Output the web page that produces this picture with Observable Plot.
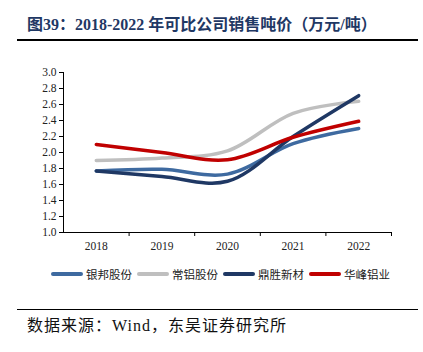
<!DOCTYPE html>
<html><head><meta charset="utf-8">
<script src="https://cdn.jsdelivr.net/npm/d3@7"></script>
<script src="https://cdn.jsdelivr.net/npm/@observablehq/plot@0.6"></script>
<style>
body{margin:0;background:#fff;}
#wrap{position:relative;width:423px;height:352px;background:#fff;overflow:hidden;font-family:"Liberation Serif","Noto Sans CJK SC",serif;}
#title{position:absolute;left:27px;top:11px;font-size:16px;font-weight:bold;color:#1F3864;white-space:nowrap;}
.rule{position:absolute;left:17px;width:401px;height:1.5px;background:#000;}
#chart{position:absolute;left:0;top:50px;}
#legend{position:absolute;left:51px;top:266px;display:flex;align-items:center;font-size:11.5px;color:#222;white-space:nowrap;}
.item{display:flex;align-items:center;margin-right:5px;}
.sw{width:32px;height:4px;border-radius:2px;margin-right:3px;}
#source{position:absolute;left:27px;top:312px;font-size:16px;letter-spacing:1px;color:#111;white-space:nowrap;}
</style></head>
<body>
<div id="wrap">
  <div id="title">图39：2018-2022 年可比公司销售吨价（万元/吨）</div>
  <div class="rule" style="top:39px"></div>
  <div id="chart"></div>
  <div id="legend"></div>
  <div class="rule" style="top:308.5px"></div>
  <div id="source">数据来源：Wind，东吴证券研究所</div>
</div>
<script>
const years = [2018, 2019, 2020, 2021, 2022];
const seriesNames = ["银邦股份", "常铝股份", "鼎胜新材", "华峰铝业"];
const yinbang   = [1.77, 1.79, 1.73, 2.11, 2.30];
const changlv   = [1.90, 1.93, 2.02, 2.49, 2.64];
const dingsheng = [1.77, 1.70, 1.64, 2.20, 2.71];
const huafeng   = [2.10, 2.00, 1.91, 2.19, 2.39];
const colors = ["#3E6AA0", "#BFBFBF", "#1F3864", "#C00000"];
const yTicks = [1.0, 1.2, 1.4, 1.6, 1.8, 2.0, 2.2, 2.4, 2.6, 2.8, 3.0];

const allSeries = [yinbang, changlv, dingsheng, huafeng];
const rows = [];
allSeries.forEach((vals, i) => vals.forEach((v, j) => rows.push({name: seriesNames[i], year: years[j], value: v})));
const bounds = years.map(y => y + 0.5);

const plot = Plot.plot({
  width: 423,
  height: 205,
  marginTop: 22,
  marginBottom: 23,
  marginLeft: 63,
  marginRight: 32,
  style: {fontFamily: "Liberation Serif, serif", fontSize: "11.5px", color: "#222", background: "transparent"},
  x: {domain: [years[0] - 0.5, years[years.length - 1] + 0.5]},
  y: {domain: [1.0, 3.0]},
  color: {domain: seriesNames, range: colors},
  marks: [
    Plot.axisY({ticks: yTicks, tickFormat: d3.format(".1f"), tickSize: 4, tickPadding: 3, label: null, stroke: "#000"}),
    Plot.axisX({ticks: years, tickFormat: d => String(d), tickSize: 0, tickPadding: 9, label: null}),
    Plot.axisX({ticks: bounds, tickFormat: () => "", tickSize: 4, label: null, stroke: "#000"}),
    Plot.ruleX([years[0] - 0.5], {stroke: "#000"}),
    Plot.ruleY([1.0], {stroke: "#000"}),
    Plot.line(rows, {x: "year", y: "value", z: "name", stroke: "name", strokeWidth: 3.5, curve: "catmull-rom"})
  ]
});
document.getElementById("chart").appendChild(plot);

const legend = document.getElementById("legend");
seriesNames.forEach((n, i) => {
  const it = document.createElement("div");
  it.className = "item";
  it.innerHTML = `<div class="sw" style="background:${colors[i]}"></div><span>${n}</span>`;
  legend.appendChild(it);
});
</script>
</body></html>
